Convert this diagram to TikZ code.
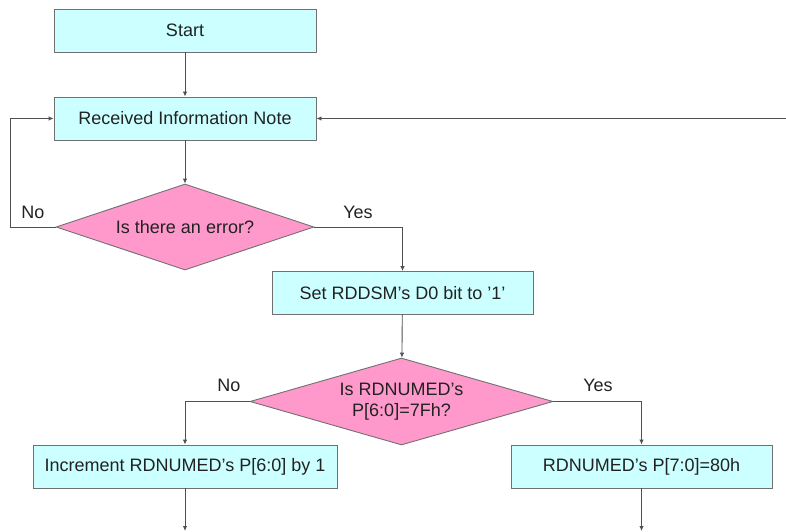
\documentclass[tikz,border=0pt]{standalone}
\usepackage{fontspec}
\setmainfont{Liberation Sans}
\usetikzlibrary{shapes.geometric,arrows.meta}
\definecolor{boxfill}{HTML}{CCFFFF}
\definecolor{dfill}{HTML}{FF99CC}
\definecolor{edge}{HTML}{707070}
\definecolor{wire}{HTML}{505050}
\definecolor{ink}{HTML}{222222}
\tikzset{
  procbox/.style={draw=edge, line width=0.9pt, fill=boxfill, rectangle, inner sep=0pt,
    minimum height=43pt, text=ink, font=\fontsize{18}{21}\selectfont},
  decide/.style={draw=edge, line width=0.9pt, fill=dfill, diamond, inner sep=0pt,
    text=ink, font=\fontsize{18}{21}\selectfont, align=center},
  flow/.style={draw=wire, line width=0.9pt, -{Latex[length=5pt,width=4.5pt]}},
  lbl/.style={text=ink, font=\fontsize{18}{21}\selectfont, inner sep=0pt}
}
\begin{document}
\begin{tikzpicture}[x=1pt,y=-1pt]
\useasboundingbox (0,0) rectangle (786,532);
\node[procbox, minimum width=262pt] (start) at (185,30.5) {Start};
\node[procbox, minimum width=262pt] (recv) at (185,118.5) {Received Information Note};
\node[decide, aspect=3, minimum width=258pt, minimum height=86pt] (err) at (185,227) {Is there an error?};
\node[procbox, minimum width=261pt] (set) at (402.5,293) {Set RDDSM’s D0 bit to ’1’};
\node[decide, aspect=3.48, minimum width=303pt, minimum height=87pt] (chk) at (401.5,401.5) {Is RDNUMED’s\\P[6:0]=7Fh?};
\node[procbox, minimum width=304pt] (inc) at (185,466.5) {Increment RDNUMED’s P[6:0] by 1};
\node[procbox, minimum width=261pt] (wrap) at (641.5,466.5) {RDNUMED’s P[7:0]=80h};
\coordinate (loopin) at (786,118.5);
\coordinate (noleft) at (10,227);
\coordinate (incout) at (185,531);
\coordinate (wrapout) at (641.5,531);

\draw[flow] (start) -- (recv);
\draw[flow] (recv) -- (err);
\draw[flow] (err.west) -- (noleft) |- (recv.west);
\draw[flow] (err.east) -| (set.north);
\draw[flow] (loopin) -- (recv.east);
\draw[flow] (set) -- (chk);
\draw[flow] (chk.west) -| (inc.north);
\draw[flow] (chk.east) -| (wrap.north);
\draw[flow] (inc) -- (incout);
\draw[flow] (wrap) -- (wrapout);

\node[lbl] (no1) at (33,212) {No};
\node[lbl] (yes1) at (358,212) {Yes};
\node[lbl] (no2) at (229,385) {No};
\node[lbl] (yes2) at (598,385) {Yes};
\end{tikzpicture}
\end{document}
